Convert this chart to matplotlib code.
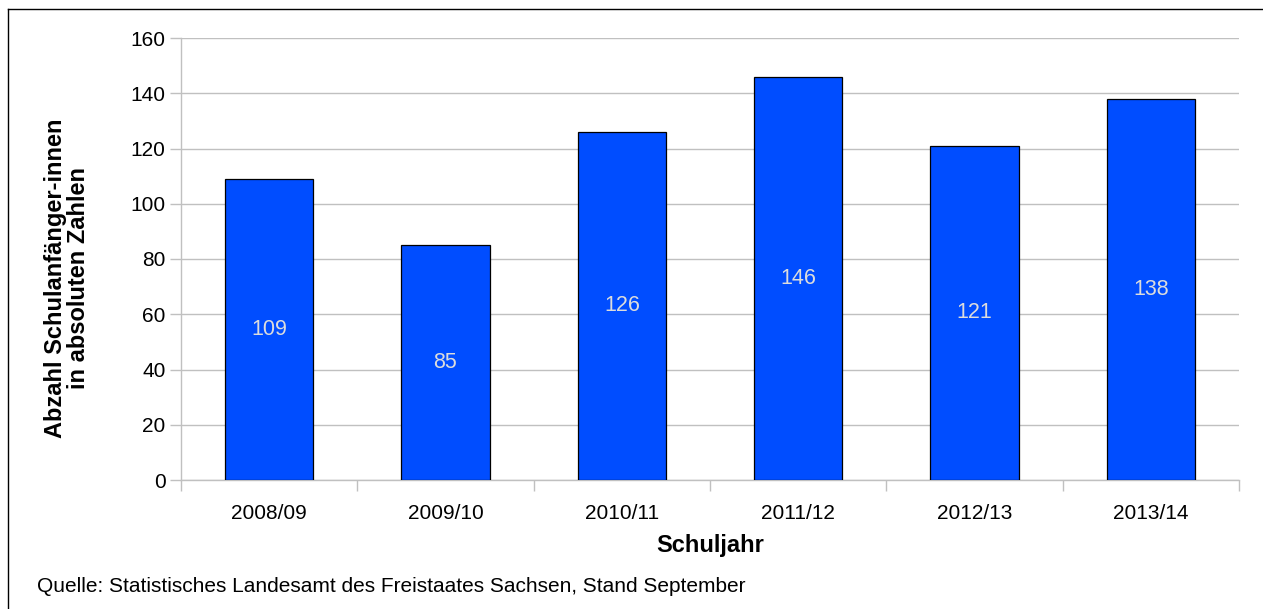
import matplotlib
matplotlib.use('Agg')
import matplotlib.pyplot as plt
from matplotlib.lines import Line2D
import numpy as np

plt.rcParams['font.family'] = ['Liberation Sans', 'DejaVu Sans']

years = ['2008/09', '2009/10', '2010/11', '2011/12', '2012/13', '2013/14']
counts = [109, 85, 126, 146, 121, 138]
yticks = [0, 20, 40, 60, 80, 100, 120, 140, 160]

grid_col = '#c0c0c0'

fig = plt.figure(figsize=(12.63, 6.09), dpi=100)
ax = fig.add_axes([181/1263, 1 - 480/609, (1239 - 181)/1263, (480 - 38)/609])

x = np.arange(len(years))
ax.bar(x, counts, width=0.5, color='#004dff', edgecolor='black', linewidth=0.9, zorder=3)
for xi, v in zip(x, counts):
    ax.text(xi, v / 2, str(v), ha='center', va='center', color='#dcdcdc', fontsize=15.5, zorder=4)

ax.set_xlim(-0.5, len(years) - 0.5)
ax.set_ylim(0, 160)
ax.set_yticks(yticks)
ax.set_yticklabels([str(t) for t in yticks], fontsize=15)
ax.yaxis.grid(True, color=grid_col, linewidth=1.0, zorder=0)
ax.tick_params(axis='y', length=8, color=grid_col, width=1.0, pad=3)

# category labels centred, tick marks at the category boundaries
ax.set_xticks(x)
ax.set_xticklabels(years, fontsize=15)
ax.tick_params(axis='x', length=0, pad=17)
ax.set_xticks(np.arange(len(years) + 1) - 0.5, minor=True)
ax.tick_params(axis='x', which='minor', length=8, color=grid_col, width=1.0)

for side in ['top', 'right']:
    ax.spines[side].set_visible(False)
for side in ['left', 'bottom']:
    ax.spines[side].set_color(grid_col)
    ax.spines[side].set_linewidth(1.0)

ax.set_xlabel('Schuljahr', fontsize=17, fontweight='bold', labelpad=8)
ax.set_ylabel('Abzahl Schulanfänger-innen\nin absoluten Zahlen', fontsize=17,
              fontweight='bold', linespacing=1.0)
ax.yaxis.set_label_coords(-(181 - 90) / (1239 - 181), (480 - 278) / (480 - 38))

fig.text(37/1263, 1 - 586/609, 'Quelle: Statistisches Landesamt des Freistaates Sachsen, Stand September',
         fontsize=15, va='center', ha='left')

# outer frame (left and top edges)
fig.add_artist(Line2D([8/1263, 8/1263], [0, 1 - 9/609], transform=fig.transFigure, color='black', linewidth=1.0))
fig.add_artist(Line2D([8/1263, 1], [1 - 9/609, 1 - 9/609], transform=fig.transFigure, color='black', linewidth=1.0))

fig.savefig('out.png', dpi=100)
